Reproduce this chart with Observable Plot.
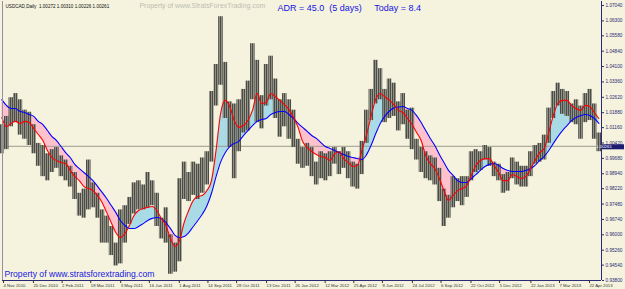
<!DOCTYPE html>
<html><head><meta charset="utf-8">
<script src="https://cdn.jsdelivr.net/npm/d3@7"></script>
<script src="https://cdn.jsdelivr.net/npm/@observablehq/plot@0.6"></script>
<style>
html,body{margin:0;padding:0;background:#f5f3dd;}
#chart{width:625px;height:289px;overflow:hidden;}
svg{display:block}
</style></head><body><div id="chart"></div>
<script>
// Weekly bars (Wednesday of each week), first week of Nov 2010
const firstWeek = "2010-11-03";
const weekHigh = [1.0130,1.0170,1.0260,1.0280,1.0250,1.0200,1.0190,1.0130,1.0040,1.0030,0.9990,1.0010,1.0020,0.9980,0.9960,0.9930,0.9900,0.9800,0.9820,0.9960,0.9850,0.9800,0.9720,0.9690,0.9640,0.9560,0.9720,0.9740,0.9780,0.9850,0.9860,0.9840,0.9900,0.9860,0.9800,0.9680,0.9730,0.9600,0.9560,0.9870,0.9950,0.9900,0.9950,0.9940,0.9970,1.0000,1.0290,1.0420,1.0650,1.0430,1.0240,1.0230,1.0250,1.0300,1.0340,1.0520,1.0440,1.0270,1.0420,1.0460,1.0350,1.0250,1.0280,1.0250,1.0200,1.0060,1.0020,1.0040,1.0020,0.9950,1.0000,0.9990,1.0000,1.0020,1.0000,1.0020,1.0000,0.9950,0.9940,1.0050,1.0200,1.0300,1.0440,1.0400,1.0300,1.0350,1.0330,1.0240,1.0280,1.0200,1.0210,1.0060,1.0020,1.0000,0.9980,0.9970,0.9920,0.9820,0.9790,0.9880,0.9870,0.9880,0.9880,1.0000,1.0010,1.0000,1.0030,1.0020,0.9950,0.9940,0.9890,0.9900,0.9970,0.9950,0.9930,0.9930,1.0000,1.0030,1.0040,1.0080,1.0210,1.0290,1.0330,1.0300,1.0290,1.0230,1.0250,1.0220,1.0280,1.0300,1.0230,1.0090];
const weekLow = [0.9990,1.0010,1.0120,1.0140,1.0080,1.0060,1.0030,0.9990,0.9930,0.9880,0.9860,0.9900,0.9920,0.9880,0.9860,0.9830,0.9770,0.9690,0.9680,0.9720,0.9730,0.9680,0.9560,0.9560,0.9500,0.9450,0.9460,0.9560,0.9650,0.9700,0.9720,0.9720,0.9730,0.9740,0.9640,0.9580,0.9560,0.9410,0.9420,0.9470,0.9770,0.9760,0.9790,0.9770,0.9800,0.9840,0.9950,1.0220,1.0320,1.0160,1.0020,0.9870,1.0000,1.0090,1.0100,1.0250,1.0140,1.0110,1.0220,1.0250,1.0160,1.0070,1.0120,1.0060,1.0020,0.9940,0.9920,0.9930,0.9880,0.9840,0.9870,0.9860,0.9880,0.9940,0.9890,0.9920,0.9870,0.9830,0.9820,0.9890,1.0040,1.0150,1.0230,1.0250,1.0140,1.0160,1.0170,1.0100,1.0130,1.0060,1.0010,0.9960,0.9900,0.9870,0.9860,0.9840,0.9760,0.9640,0.9680,0.9730,0.9760,0.9740,0.9780,0.9860,0.9900,0.9910,0.9960,0.9930,0.9880,0.9860,0.9800,0.9810,0.9870,0.9840,0.9830,0.9830,0.9880,0.9940,0.9950,0.9960,1.0040,1.0160,1.0220,1.0180,1.0170,1.0140,1.0130,1.0060,1.0140,1.0150,1.0060,1.0000];
// fast (red) and slow (blue) moving averages, same weeks
const fastMA = [1.0165,1.0121,1.0136,1.0146,1.0136,1.0146,1.0141,1.0112,1.0083,1.0054,1.0006,0.9972,0.9958,0.9948,0.9943,0.9910,0.9881,0.9861,0.9833,0.9823,0.9813,0.9789,0.9756,0.9708,0.9659,0.9611,0.9587,0.9606,0.9645,0.9693,0.9717,0.9727,0.9732,0.9736,0.9717,0.9679,0.9645,0.9582,0.9544,0.9573,0.9659,0.9717,0.9765,0.9784,
  0.9789,0.9813,0.9861,1.0006,1.0184,1.0247,1.0218,1.0150,1.0117,1.0126,1.0150,1.0199,1.0280,1.0232,1.0237,1.0280,1.0266,1.0247,1.0227,1.0203,1.0165,1.0117,1.0049,1.0020,1.0001,0.9987,0.9977,0.9972,
  0.9958,0.9990,1.0000,0.9967,0.9948,0.9929,0.9934,1.0006,1.0080,1.0170,1.0250,1.0280,1.0265,1.0250,1.0227,1.0199,1.0189,1.0160,1.0131,1.0093,1.0054,0.9982,0.9943,0.9919,0.9871,0.9813,0.9765,0.9789,0.9813,0.9823,0.9837,0.9886,0.9934,0.9958,0.9967,0.9967,0.9934,0.9900,0.9861,0.9861,0.9890,0.9881,0.9871,0.9881,0.9919,0.9958,0.9996,1.0016,1.0093,1.0174,1.0232,1.0247,1.0247,1.0223,1.0208,1.0199,1.0223,1.0218,1.0189,1.0160];
const slowMA = [1.0251,1.0223,1.0208,1.0208,1.0194,1.0189,1.0179,1.0170,1.0146,1.0131,1.0102,1.0073,1.0054,1.0025,0.9996,0.9972,0.9939,0.9919,0.9900,0.9881,0.9861,0.9833,0.9804,0.9775,0.9741,0.9708,0.9669,0.9645,0.9630,0.9630,0.9640,0.9654,0.9669,0.9679,0.9683,0.9679,0.9659,0.9630,
  0.9597,0.9587,0.9592,0.9611,0.9640,0.9669,0.9700,0.9740,0.9800,0.9880,0.9950,0.9995,1.0025,1.0040,1.0050,1.0078,1.0102,1.0126,1.0146,1.0155,1.0160,1.0179,1.0189,1.0194,1.0194,1.0179,1.0160,1.0136,1.0117,1.0098,1.0078,1.0064,1.0044,1.0025,1.0016,1.0006,0.9996,0.9987,0.9977,0.9972,0.9967,0.9962,
  0.9985,1.0030,1.0085,1.0135,1.0170,1.0195,1.0210,1.0215,1.0218,1.0208,1.0199,1.0174,1.0141,1.0102,1.0064,1.0030,0.9987,0.9948,0.9910,0.9886,0.9861,0.9852,0.9852,0.9871,0.9890,0.9910,0.9929,0.9939,0.9943,0.9934,0.9919,0.9910,0.9905,0.9905,0.9905,0.9910,0.9919,0.9934,0.9958,0.9977,1.0006,1.0040,1.0073,1.0102,1.0126,1.0150,1.0165,1.0174,1.0179,1.0174,1.0160,1.0136];

const yTicks = [1.0704,1.0630,1.0558,1.0484,1.0410,1.0336,1.0262,1.0188,1.0116,1.0042,0.9968,0.9894,0.9822,0.9748,0.9674,0.9600,0.9526,0.9454,0.9380];
const yTickLabels = ["1.07040","1.06300","1.05580","1.04840","1.04100","1.03360","1.02620","1.01880","1.01160","1.00420","0.99680","0.98940","0.98220","0.97480","0.96740","0.96000","0.95260","0.94540","0.93800"];
const xTickDates = ["2010-11-04","2010-12-20","2011-02-02","2011-03-18","2011-05-03","2011-06-16","2011-08-01","2011-09-14","2011-10-28","2011-12-13","2012-01-26","2012-03-12","2012-04-25","2012-06-08","2012-07-24","2012-09-06","2012-10-22","2012-12-05","2013-01-22","2013-03-07","2013-04-22"];
const xTickLabels = ["4 Nov 2010","20 Dec 2010","2 Feb 2011","18 Mar 2011","3 May 2011","16 Jun 2011","1 Aug 2011","14 Sep 2011","28 Oct 2011","13 Dec 2011","26 Jan 2012","12 Mar 2012","25 Apr 2012","8 Jun 2012","24 Jul 2012","6 Sep 2012","22 Oct 2012","5 Dec 2012","22 Jan 2013","7 Mar 2013","22 Apr 2013"];
const lastPrice = 1.00261;
const headerText = "USDCAD,Daily  1.00272 1.00310 1.00226 1.00261";
const watermarkText = "Property of www.StratsForexTrading.com";
const adrText = "ADR = 45.0  (5 days)     Today = 8.4";
const footerText = "Property of www.stratsforextrading.com";

const start = new Date(firstWeek);
const data = weekHigh.map((h, i) => {
  const date = d3.utcWeek.offset(start, i);
  const wk = d3.utcWeek.floor(date);
  return {date, wkStart: wk, wkEnd: d3.utcWeek.offset(wk, 1),
    high: h, low: weekLow[i], fast: fastMA[i], slow: slowMA[i]};
});
const xDates = xTickDates.map(s => new Date(s));
const xLabel = new Map(xDates.map((d, i) => [+d, xTickLabels[i]]));
const yLabel = new Map(yTicks.map((v, i) => [v, yTickLabels[i]]));
const xDomain = [new Date("2010-11-04"), new Date("2013-05-12")];
const nb = s => s.replace(/ /g, "\u00a0");

const chart = Plot.plot({
  width: 625, height: 289,
  marginLeft: 2, marginRight: 24, marginTop: 1, marginBottom: 9,
  style: {background: "transparent", fontFamily: "Liberation Sans, Arial, sans-serif"},
  x: {type: "utc", domain: xDomain},
  y: {domain: [0.938, 1.0704], range: [280, 5]},
  marks: [
    () => {
      const defs = d3.create("svg:defs");
      const p = defs.append("pattern").attr("id", "barTex").attr("patternUnits", "userSpaceOnUse").attr("width", 2).attr("height", 3);
      p.append("rect").attr("x", 0).attr("y", 0).attr("width", 1).attr("height", 3).attr("fill", "#4c4c46");
      p.append("rect").attr("x", 1).attr("y", 0).attr("width", 1).attr("height", 3).attr("fill", "#7e7e75").attr("fill-opacity", 0.85);
      return defs.node();
    },
    Plot.areaY(data, {x: "date", y1: "slow", y2: d => Math.max(d.fast, d.slow), fill: "#a9dbe6", curve: "monotone-x"}),
    Plot.areaY(data, {x: "date", y1: "slow", y2: d => Math.min(d.fast, d.slow), fill: "#ffc2cd", curve: "monotone-x"}),
    Plot.ruleY([lastPrice], {stroke: "#9c9c8e", strokeWidth: 1}),
    Plot.rect(data, {x1: "wkStart", x2: "wkEnd", y1: "low", y2: "high", fill: "url(#barTex)"}),
    Plot.lineY(data, {x: "date", y: "slow", stroke: "#0000ff", strokeWidth: 1.1, curve: "monotone-x"}),
    Plot.lineY(data, {x: "date", y: "fast", stroke: "#ff0000", strokeWidth: 1.1, curve: "monotone-x"}),
    Plot.ruleY([0.938], {stroke: "#2a2a78"}),
    Plot.ruleX([xDomain[1]], {stroke: "#2a2a78"}),
    Plot.ruleX([xDomain[0]], {stroke: "#9090a8"}),
    Plot.axisY({anchor: "right", ticks: yTicks, tickFormat: v => yLabel.get(v), tickSize: 2, tickPadding: 2, fontSize: 4.7, color: "#2a2a78", stroke: "#2a2a78"}),
    Plot.axisX({ticks: xDates, tickFormat: d => xLabel.get(+d), tickSize: 3, tickPadding: 0, textAnchor: "start", dx: 1, fontSize: 4.3, color: "#333"}),
    Plot.text([headerText], {frameAnchor: "top-left", dx: 3, dy: 3, fontSize: 4.6, fill: "#111", text: d => nb(d)}),
    Plot.text([watermarkText], {frameAnchor: "top-left", dx: 137, dy: 2, fontSize: 6.9, fill: "#bdbdb2", text: d => d}),
    Plot.text([adrText], {frameAnchor: "top-left", dx: 275, dy: 3, fontSize: 9, fill: "#1414e6", text: d => nb(d)}),
    Plot.text([footerText], {frameAnchor: "bottom-left", dx: 2, dy: -4, fontSize: 8.6, fill: "#1818e0", text: d => d}),
    (index, scales, values, dims) => {
      const y = scales.y(lastPrice);
      const x0 = dims.width - dims.marginRight + 1;
      const g = d3.create("svg:g");
      g.append("rect").attr("x", x0).attr("y", y - 1.5).attr("width", 22).attr("height", 5).attr("fill", "#1c1c72");
      g.append("text").attr("x", x0 + 2).attr("y", y + 1).attr("dy", "0.35em").attr("font-size", 4.4).attr("fill", "#fff").attr("font-family", "Liberation Sans, Arial, sans-serif").text(lastPrice.toFixed(5));
      return g.node();
    }
  ]
});
document.getElementById("chart").appendChild(chart);
</script>
</body></html>
